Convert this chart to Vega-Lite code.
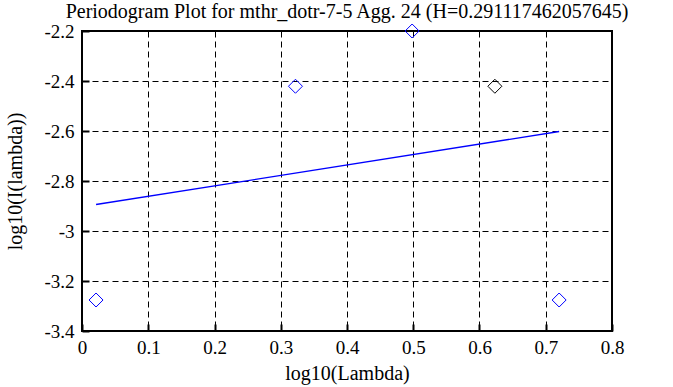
{
  "$schema": "https://vega.github.io/schema/vega-lite/v6.json",
  "width": 530,
  "height": 300,
  "autosize": {"type": "none"},
  "padding": {"left": 82, "top": 31, "right": 61, "bottom": 56},
  "background": "white",
  "title": {
    "text": "Periodogram Plot for mthr_dotr-7-5 Agg. 24 (H=0.291117462057645)",
    "font": "Liberation Serif",
    "fontSize": 20,
    "fontWeight": "normal",
    "color": "black",
    "anchor": "middle",
    "offset": 0
  },
  "config": {
    "view": {"stroke": "black", "strokeWidth": 2},
    "axis": {
      "labelFont": "Liberation Serif",
      "labelFontSize": 19,
      "labelColor": "black",
      "titleFont": "Liberation Serif",
      "titleFontSize": 20,
      "titleFontWeight": "normal",
      "titleColor": "black",
      "domain": false,
      "grid": true,
      "gridColor": "black",
      "gridDash": [6, 4],
      "gridOpacity": 1,
      "gridWidth": 1,
      "ticks": true,
      "tickColor": "black",
      "tickWidth": 2,
      "tickSize": -7,
      "labelExpr": "'' + datum.value"
    }
  },
  "datasets": {
    "pts": [
      {"x": 0.0212, "y": -3.276, "c": "blue"},
      {"x": 0.3222, "y": -2.421, "c": "blue"},
      {"x": 0.4983, "y": -2.2, "c": "blue"},
      {"x": 0.6232, "y": -2.421, "c": "black"},
      {"x": 0.7202, "y": -3.276, "c": "blue"}
    ],
    "fit": [
      {"x": 0.0212, "y": -2.894},
      {"x": 0.7202, "y": -2.602}
    ]
  },
  "layer": [
    {
      "data": {"name": "fit"},
      "mark": {"type": "line", "color": "#0000ff", "strokeWidth": 1.3},
      "encoding": {
        "x": {
          "field": "x", "type": "quantitative",
          "scale": {"domain": [0, 0.8], "nice": false},
          "axis": {"title": "log10(Lambda)", "values": [0,0.1,0.2,0.3,0.4,0.5,0.6,0.7,0.8], "labelPadding": 14, "titlePadding": 6, "labelFlush": false}
        },
        "y": {
          "field": "y", "type": "quantitative",
          "scale": {"domain": [-3.4, -2.2], "nice": false, "zero": false},
          "axis": {"title": "log10(I(lambda))", "values": [-3.4,-3.2,-3,-2.8,-2.6,-2.4,-2.2], "labelPadding": 15, "titlePadding": 18, "labelFlush": false}
        }
      }
    },
    {
      "data": {"name": "pts"},
      "mark": {"type": "point", "shape": "diamond", "filled": false, "size": 196, "strokeWidth": 1, "opacity": 1},
      "encoding": {
        "x": {"field": "x", "type": "quantitative"},
        "y": {"field": "y", "type": "quantitative"},
        "color": {"field": "c", "type": "nominal", "scale": {"domain": ["blue", "black"], "range": ["#0000ff", "#000000"]}, "legend": null}
      }
    }
  ]
}
